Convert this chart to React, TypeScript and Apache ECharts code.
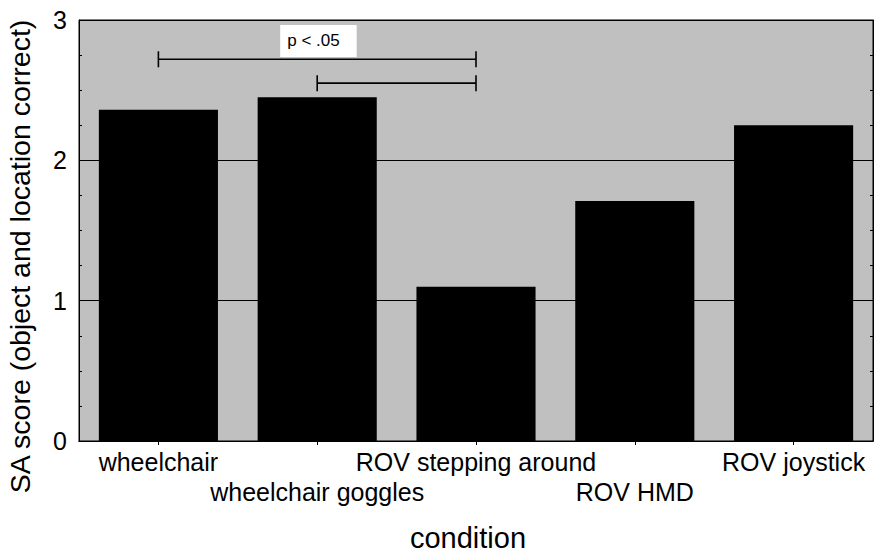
import React, { useEffect, useRef } from "react";
import * as echarts from "echarts";

const categories = [
  "wheelchair",
  "wheelchair goggles",
  "ROV stepping around",
  "ROV HMD",
  "ROV joystick",
];
const saScores = [2.36, 2.45, 1.1, 1.71, 2.25];

const yMin = 0;
const yMax = 3;
const yInterval = 1;

// significance brackets: from category index, to category index, level
const bracketFrom = [0, 1];
const bracketTo = [2, 2];
const bracketLevel = [2.72, 2.55];

const pLabelText = "p < .05";
const pLabelCategory = 1;
const pLabelLevel = 2.85;

const FONT = "'Liberation Sans', Arial, Helvetica, sans-serif";

export default function App() {
  const ref = useRef<HTMLDivElement>(null);

  useEffect(() => {
    document.body.style.margin = "0";
    const chart = echarts.init(ref.current!, null, { renderer: "svg" });

    const bracketData = bracketFrom.map((f, i) => [f, bracketTo[i], bracketLevel[i]]);

    const option: any = {
      animation: false,
      backgroundColor: "#ffffff",
      textStyle: { fontFamily: FONT },
      grid: {
        left: 79,
        right: 1,
        top: 20,
        bottom: 113,
        containLabel: false,
        outerBoundsMode: "none",
        show: true,
        backgroundColor: "#c0c0c0",
        borderColor: "#000",
        borderWidth: 1,
      },
      xAxis: [
        {
          type: "category",
          data: categories,
          position: "bottom",
          axisLine: { show: true, lineStyle: { color: "#000", width: 1 } },
          axisTick: { show: true, inside: true, alignWithLabel: true, length: 4, lineStyle: { color: "#000" } },
          axisLabel: {
            interval: 0,
            color: "#000",
            fontSize: 25,
            fontFamily: FONT,
            lineHeight: 30,
            margin: 6,
            formatter: (v: string, i: number) => (i % 2 === 1 ? "\n" + v : v),
          },
          name: "condition",
          nameLocation: "middle",
          nameGap: 82,
          nameTextStyle: {
            color: "#000",
            fontSize: 29,
            lineHeight: 29,
            fontFamily: FONT,
            padding: [0, 16, 0, 0],
          },
          splitLine: { show: false },
        },
        {
          type: "category",
          data: categories,
          position: "top",
          axisLine: { show: true, lineStyle: { color: "#000", width: 1 } },
          axisTick: { show: true, inside: true, alignWithLabel: true, length: 4, lineStyle: { color: "#000" } },
          axisLabel: { show: false },
          splitLine: { show: false },
        },
      ],
      yAxis: [
        {
          type: "value",
          min: yMin,
          max: yMax,
          interval: yInterval,
          position: "left",
          axisLine: { show: true, lineStyle: { color: "#000", width: 1 } },
          axisTick: { show: true, inside: true, length: 5, lineStyle: { color: "#000" } },
          minorTick: { show: true, splitNumber: 4, length: 3, lineStyle: { color: "#000" } },
          axisLabel: { color: "#000", fontSize: 25, fontFamily: FONT, margin: 12 },
          splitLine: { show: true, lineStyle: { color: "#000", width: 1 } },
          name: "SA score (object and location correct)",
          nameLocation: "middle",
          nameGap: 45,
          nameTextStyle: { color: "#000", fontSize: 28.5, fontFamily: FONT, padding: [0, 52, 0, 0] },
        },
        {
          type: "value",
          min: yMin,
          max: yMax,
          interval: yInterval,
          position: "right",
          axisLine: { show: true, lineStyle: { color: "#000", width: 1 } },
          axisTick: { show: true, inside: true, length: 5, lineStyle: { color: "#000" } },
          minorTick: { show: true, splitNumber: 4, length: 3, lineStyle: { color: "#000" } },
          axisLabel: { show: false },
          splitLine: { show: false },
        },
      ],
      series: [
        {
          type: "bar",
          data: saScores,
          xAxisIndex: 0,
          yAxisIndex: 0,
          barWidth: "75%",
          itemStyle: { color: "#000" },
          silent: true,
        },
        {
          type: "custom",
          xAxisIndex: 0,
          yAxisIndex: 0,
          encode: { x: [0, 1], y: 2 },
          data: bracketData,
          silent: true,
          renderItem: (params: any, api: any) => {
            const s = api.coord([api.value(0), api.value(2)]);
            const e = api.coord([api.value(1), api.value(2)]);
            const st = { stroke: "#000", lineWidth: 1.6 };
            return {
              type: "group",
              children: [
                { type: "line", shape: { x1: s[0], y1: s[1], x2: e[0], y2: e[1] }, style: st },
                { type: "line", shape: { x1: s[0], y1: s[1] - 8, x2: s[0], y2: s[1] + 8 }, style: st },
                { type: "line", shape: { x1: e[0], y1: e[1] - 8, x2: e[0], y2: e[1] + 8 }, style: st },
              ],
            };
          },
        },
        {
          type: "custom",
          xAxisIndex: 0,
          yAxisIndex: 0,
          encode: { x: 0, y: 1 },
          data: [[pLabelCategory, pLabelLevel]],
          silent: true,
          renderItem: (params: any, api: any) => {
            const p = api.coord([api.value(0), api.value(1)]);
            return {
              type: "text",
              x: p[0] - 37,
              y: p[1] - 16,
              style: {
                text: pLabelText,
                font: `17px ${FONT}`,
                fill: "#000",
                align: "left",
                verticalAlign: "top",
                backgroundColor: "#fff",
                padding: [7, 17, 8, 7],
              },
            };
          },
        },
      ],
    };

    chart.setOption(option);
    return () => chart.dispose();
  }, []);

  return (
    <div
      ref={ref}
      style={{ position: "fixed", left: 0, top: 0, width: 874, height: 554 }}
    />
  );
}
